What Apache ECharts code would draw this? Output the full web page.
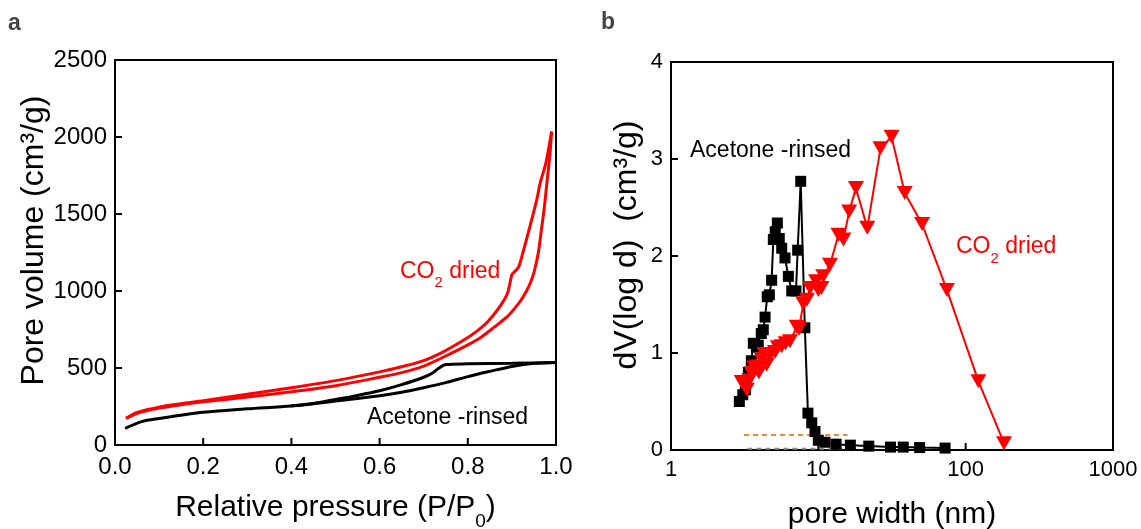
<!DOCTYPE html>
<html>
<head>
<meta charset="utf-8">
<script src="https://cdn.jsdelivr.net/npm/echarts@6/dist/echarts.min.js"></script>
<style>
  html, body { margin: 0; padding: 0; background: #fff; }
  #chart { width: 1141px; height: 529px; }
</style>
</head>
<body>
<div id="chart"></div>
<script>
// ---- Panel a: N2 sorption isotherms, [P/P0, volume cm3/g] ----
const co2Adsorption = [
  [0.025, 173], [0.06, 215], [0.1, 240], [0.15, 262], [0.2, 280], [0.3, 312],
  [0.4, 346], [0.5, 385], [0.6, 440], [0.65, 470], [0.7, 512], [0.75, 578],
  [0.8, 650], [0.83, 700], [0.86, 765], [0.89, 835], [0.91, 900], [0.925, 960],
  [0.94, 1040], [0.95, 1120], [0.96, 1250], [0.967, 1400], [0.973, 1530],
  [0.98, 1720], [0.986, 1880], [0.99, 2035]
];
const co2Desorption = [
  [0.025, 173], [0.05, 212], [0.1, 246], [0.15, 268], [0.2, 287], [0.3, 330],
  [0.4, 372], [0.5, 418], [0.6, 475], [0.65, 508], [0.7, 548], [0.74, 598],
  [0.79, 680], [0.82, 738], [0.845, 800], [0.873, 900], [0.89, 985],
  [0.9, 1105], [0.906, 1125], [0.915, 1155], [0.926, 1260], [0.94, 1410],
  [0.957, 1600], [0.964, 1700], [0.977, 1830], [0.99, 2035]
];
const acetoneAdsorption = [
  [0.023, 108], [0.06, 152], [0.1, 172], [0.2, 212], [0.3, 235], [0.4, 253],
  [0.5, 285], [0.6, 320], [0.65, 342], [0.7, 372], [0.75, 405], [0.8, 444],
  [0.85, 478], [0.9, 510], [0.95, 530], [1.0, 536]
];
const acetoneDesorption = [
  [0.4, 255], [0.45, 270], [0.5, 296], [0.55, 322], [0.6, 352], [0.65, 392],
  [0.7, 440], [0.72, 468], [0.735, 500], [0.75, 522], [0.8, 527], [0.9, 531],
  [1.0, 536]
];

// ---- Panel b: pore size distribution, [pore width nm, dV/dlog d] ----
const acetonePSD = [
  [2.91, 0.50], [3.07, 0.57], [3.2, 0.62], [3.35, 0.80], [3.51, 0.92],
  [3.62, 1.10], [3.8, 1.06], [3.91, 1.08], [4.1, 1.20], [4.23, 1.24],
  [4.35, 1.37], [4.5, 1.58], [4.65, 1.60], [4.82, 1.75], [4.95, 2.17],
  [5.1, 2.25], [5.27, 2.34], [5.43, 2.18], [5.64, 2.08], [5.94, 1.98],
  [6.26, 1.79], [6.6, 1.64], [7.05, 1.64], [7.24, 2.06], [7.59, 2.77],
  [8.1, 1.26], [8.5, 0.38], [9.02, 0.28], [9.49, 0.19], [10.0, 0.10],
  [11.1, 0.08], [13.2, 0.06], [16.5, 0.05], [22, 0.04], [30.9, 0.03],
  [37.7, 0.03], [48.7, 0.025], [72.5, 0.02]
];
const co2PSD = [
  [3.02, 0.70], [3.27, 0.62], [3.4, 0.72], [3.53, 0.79], [3.67, 0.85],
  [3.82, 0.86], [3.95, 0.80], [4.13, 0.93], [4.3, 0.99], [4.46, 0.88],
  [4.7, 0.98], [5.08, 1.01], [5.31, 1.06], [5.64, 1.07], [6.0, 1.10],
  [6.42, 1.12], [7.13, 1.27], [7.39, 1.25], [7.91, 1.51], [8.37, 1.55],
  [8.78, 1.67], [9.65, 1.74], [10.0, 1.65], [10.5, 1.67], [10.8, 1.79],
  [12.0, 1.91], [13.7, 2.22], [14.8, 2.17], [16.2, 2.46], [18.0, 2.70],
  [21.5, 2.29], [26.4, 3.11], [31.4, 3.23], [38.6, 2.65], [50.6, 2.33],
  [74.6, 1.65], [122, 0.71], [182, 0.07]
];
const orangeGuide = [[3.13, 0.155], [15.8, 0.155]];
const grayGuide = [[3.3, 0.012], [15.8, 0.012]];

const xTicksA = [0, 1, 0.2];       // min, max, interval
const yTicksA = [0, 2500, 500];
const yTicksB = [0, 4, 1];
const xRangeB = [1, 1000];
const innerTicksXA = [0.2, 0.4, 0.6, 0.8];
const innerTicksYA = [500, 1000, 1500, 2000];
const innerTicksXB = [10, 100];
const innerTicksYB = [1, 2, 3];

const FONT = '"Liberation Sans", Arial, Helvetica, sans-serif';
const TICK_LEN = 7;

function axisCommon(labelSize, margin, formatter) {
  return {
    axisLine: { show: true, onZero: false, lineStyle: { color: '#000', width: 2 } },
    axisTick: { show: false },
    axisLabel: { show: true, color: '#000', fontSize: labelSize, fontFamily: FONT, margin: margin, formatter: formatter },
    splitLine: { show: false },
    minorTick: { show: false }
  };
}

// Short inward tick marks, placed with the axis scales.
function tickSeries(gridIdx, values, dir, baseValue) {
  return {
    type: 'custom', xAxisIndex: gridIdx, yAxisIndex: gridIdx, silent: true, z: 5,
    data: values.map((v) => dir === 'x' ? [v, baseValue] : [baseValue, v]),
    renderItem: (params, api) => {
      const p = api.coord([api.value(0), api.value(1)]);
      const shape = dir === 'x'
        ? { x1: p[0], y1: p[1], x2: p[0], y2: p[1] - TICK_LEN }
        : { x1: p[0], y1: p[1], x2: p[0] + TICK_LEN, y2: p[1] };
      return { type: 'line', shape: shape, style: { stroke: '#000', lineWidth: 2 } };
    }
  };
}

const fixed1 = (v) => v.toFixed(1);
const plain = (v) => String(Math.round(v * 1000) / 1000);

const chart = echarts.init(document.getElementById('chart'), null, { renderer: 'canvas' });

chart.setOption({
  backgroundColor: '#fff',
  animation: false,
  grid: [
    { left: 115, top: 60, width: 441, height: 385, outerBoundsMode: 'none', containLabel: false,
      show: true, borderColor: '#000', borderWidth: 2, backgroundColor: 'transparent' },
    { left: 671, top: 62, width: 442, height: 388, outerBoundsMode: 'none', containLabel: false,
      show: true, borderColor: '#000', borderWidth: 2, backgroundColor: 'transparent' }
  ],
  xAxis: [
    Object.assign(axisCommon(24, 10, fixed1), {
      type: 'value', gridIndex: 0,
      min: xTicksA[0], max: xTicksA[1], interval: xTicksA[2],
      name: 'Relative pressure (P/P{s|0})',
      nameLocation: 'middle', nameGap: 36,
      nameTextStyle: {
        color: '#000', fontSize: 30, fontFamily: FONT, lineHeight: 47,
        rich: { s: { fontSize: 19, fontFamily: FONT, color: '#000', verticalAlign: 'bottom' } }
      }
    }),
    Object.assign(axisCommon(22, 9, plain), {
      type: 'log', logBase: 10, gridIndex: 1,
      min: xRangeB[0], max: xRangeB[1],
      name: 'pore width (nm)',
      nameLocation: 'middle', nameGap: 50,
      nameTextStyle: { color: '#000', fontSize: 30, fontFamily: FONT }
    })
  ],
  yAxis: [
    Object.assign(axisCommon(24, 8, plain), {
      type: 'value', gridIndex: 0,
      min: yTicksA[0], max: yTicksA[1], interval: yTicksA[2],
      name: 'Pore volume (cm³/g)',
      nameLocation: 'middle', nameGap: 64,
      nameTextStyle: { color: '#000', fontSize: 32, fontFamily: FONT, padding: [0, 0, 0, 24] }
    }),
    Object.assign(axisCommon(22, 8, plain), {
      type: 'value', gridIndex: 1,
      min: yTicksB[0], max: yTicksB[1], interval: yTicksB[2],
      name: 'dV(log d)  (cm³/g)',
      nameLocation: 'middle', nameGap: 28,
      nameTextStyle: { color: '#000', fontSize: 32, fontFamily: FONT, padding: [0, 0, 0, 22] }
    })
  ],
  series: [
    tickSeries(0, innerTicksXA, 'x', yTicksA[0]),
    tickSeries(0, innerTicksYA, 'y', xTicksA[0]),
    tickSeries(1, innerTicksXB, 'x', yTicksB[0]),
    tickSeries(1, innerTicksYB, 'y', xRangeB[0]),
    // isotherms
    { type: 'line', xAxisIndex: 0, yAxisIndex: 0, data: acetoneAdsorption, showSymbol: false, smooth: 0.3,
      lineStyle: { color: '#000', width: 3 } },
    { type: 'line', xAxisIndex: 0, yAxisIndex: 0, data: acetoneDesorption, showSymbol: false, smooth: 0.3,
      lineStyle: { color: '#000', width: 3 } },
    { type: 'line', xAxisIndex: 0, yAxisIndex: 0, data: co2Adsorption, showSymbol: false, smooth: 0.3,
      lineStyle: { color: '#ff0000', width: 3 } },
    { type: 'line', xAxisIndex: 0, yAxisIndex: 0, data: co2Desorption, showSymbol: false, smooth: 0.3,
      lineStyle: { color: '#ff0000', width: 3 } },
    // pore size distributions
    { type: 'line', xAxisIndex: 1, yAxisIndex: 1, data: orangeGuide, showSymbol: false,
      lineStyle: { color: '#f0883a', width: 2, type: [5, 4] } },
    { type: 'line', xAxisIndex: 1, yAxisIndex: 1, data: grayGuide, showSymbol: false,
      lineStyle: { color: '#8c8c8c', width: 2, type: [5, 4] } },
    { type: 'line', xAxisIndex: 1, yAxisIndex: 1, data: acetonePSD,
      symbol: 'rect', symbolSize: 11, showAllSymbol: true,
      itemStyle: { color: '#000' }, lineStyle: { color: '#000', width: 2 } },
    { type: 'line', xAxisIndex: 1, yAxisIndex: 1, data: co2PSD,
      symbol: 'triangle', symbolRotate: 180, symbolSize: [16, 14], showAllSymbol: true,
      itemStyle: { color: '#ff0000' }, lineStyle: { color: '#ff0000', width: 2 } }
  ],
  graphic: [
    { type: 'text', left: 8, top: 12, style: { text: 'a', fontSize: 23, fontWeight: 'bold', fontFamily: FONT, fill: '#444' } },
    { type: 'text', left: 601, top: 11, style: { text: 'b', fontSize: 23, fontWeight: 'bold', fontFamily: FONT, fill: '#444' } },
    { type: 'text', x: 400, y: 271.5, style: {
        text: 'CO{s|2} dried', fontSize: 23, fontFamily: FONT, fill: '#ff0000', lineHeight: 38,
        verticalAlign: 'middle', rich: { s: { fontSize: 15, fontFamily: FONT, fill: '#ff0000', verticalAlign: 'bottom' } } } },
    { type: 'text', x: 367, y: 417.5, style: {
        text: 'Acetone -rinsed', fontSize: 23, fontFamily: FONT, fill: '#000', verticalAlign: 'middle' } },
    { type: 'text', x: 690, y: 150.5, style: {
        text: 'Acetone -rinsed', fontSize: 23, fontFamily: FONT, fill: '#000', verticalAlign: 'middle' } },
    { type: 'text', x: 956, y: 247, style: {
        text: 'CO{s|2} dried', fontSize: 23, fontFamily: FONT, fill: '#ff0000', lineHeight: 38,
        verticalAlign: 'middle', rich: { s: { fontSize: 15, fontFamily: FONT, fill: '#ff0000', verticalAlign: 'bottom' } } } }
  ]
});
</script>
</body>
</html>
